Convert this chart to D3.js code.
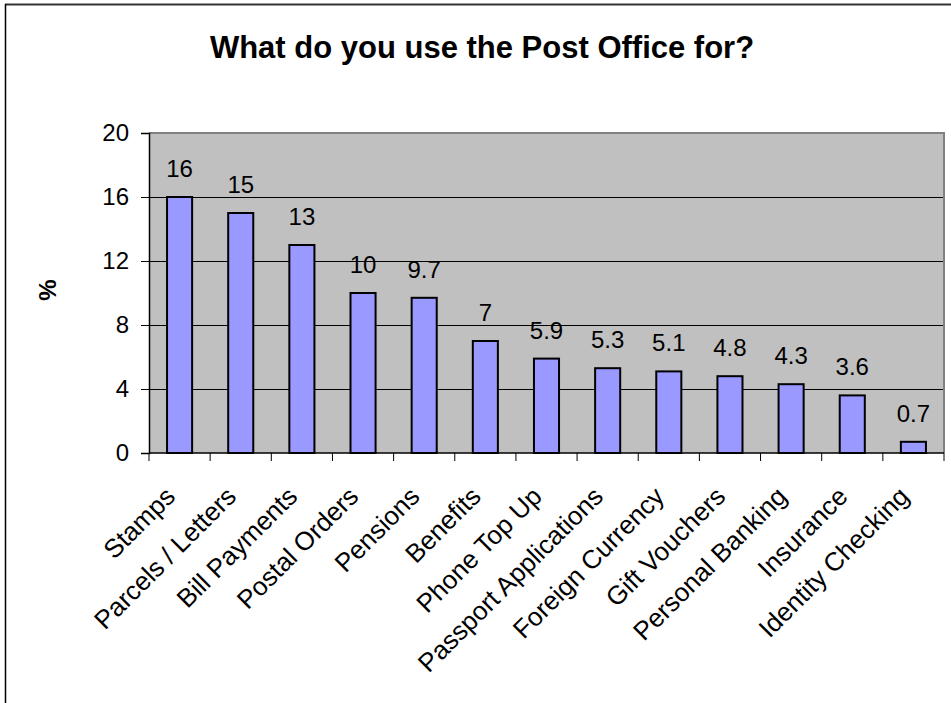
<!DOCTYPE html>
<html>
<head>
<meta charset="utf-8">
<script src="https://cdn.jsdelivr.net/npm/d3@7"></script>
<style>
  html, body { margin: 0; padding: 0; background: #ffffff; }
  svg { display: block; }
  text { font-family: "Liberation Sans", Arial, sans-serif; fill: #000; }
</style>
</head>
<body>
<svg id="chart" width="951" height="703"></svg>
<script>
const categories = ["Stamps", "Parcels / Letters", "Bill Payments", "Postal Orders", "Pensions", "Benefits", "Phone Top Up", "Passport Applications", "Foreign Currency", "Gift Vouchers", "Personal Banking", "Insurance", "Identity Checking"];
const values = [16, 15, 13, 10, 9.7, 7, 5.9, 5.3, 5.1, 4.8, 4.3, 3.6, 0.7];
const valueLabels = ["16", "15", "13", "10", "9.7", "7", "5.9", "5.3", "5.1", "4.8", "4.3", "3.6", "0.7"];
const yTicks = [0, 4, 8, 12, 16, 20];
const title = "What do you use the Post Office for?";
const yTitle = "%";

const svg = d3.select("#chart");
const W = 951, H = 703;
const plot = { left: 149, right: 944, top: 133, bottom: 453 };

// outer chart frame (only top/left visible in picture)
svg.append("line").attr("x1", 5).attr("x2", W).attr("y1", 4.5).attr("y2", 4.5)
  .attr("stroke", "#333").attr("stroke-width", 2);
svg.append("line").attr("x1", 5.5).attr("x2", 5.5).attr("y1", 4).attr("y2", H)
  .attr("stroke", "#000").attr("stroke-width", 1.5);

const x = d3.scaleBand().domain(categories).range([plot.left, plot.right]).paddingInner(0.59).paddingOuter(0.295);
const xb = d3.scaleBand().domain(categories).range([plot.left, plot.right]).padding(0);
const y = d3.scaleLinear().domain([0, 20]).range([plot.bottom, plot.top]);

// plot background
svg.append("rect").attr("x", plot.left).attr("y", plot.top)
  .attr("width", plot.right - plot.left).attr("height", plot.bottom - plot.top)
  .attr("fill", "#c0c0c0");

// gridlines
svg.append("g").selectAll("line").data(yTicks.filter(d => d > 0 && d < 20)).join("line")
  .attr("x1", plot.left).attr("x2", plot.right)
  .attr("y1", d => Math.round(y(d)) + 0.5).attr("y2", d => Math.round(y(d)) + 0.5)
  .attr("stroke", "#000").attr("stroke-width", 1);

// plot border top & right
svg.append("path")
  .attr("d", `M${plot.left},${plot.top}H${plot.right}V${plot.bottom}`)
  .attr("fill", "none").attr("stroke", "#808080").attr("stroke-width", 2);

// bars
svg.append("g").selectAll("rect").data(values).join("rect")
  .attr("x", (d, i) => x(categories[i]))
  .attr("y", d => y(d))
  .attr("width", x.bandwidth())
  .attr("height", d => y(0) - y(d))
  .attr("fill", "#9999ff").attr("stroke", "#000").attr("stroke-width", 2);

// value labels
svg.append("g").selectAll("text").data(values).join("text")
  .attr("x", (d, i) => x(categories[i]) + x.bandwidth() / 2)
  .attr("y", d => y(d) - 20)
  .attr("text-anchor", "middle")
  .attr("font-size", 24)
  .text((d, i) => valueLabels[i]);

// y axis
const yAxis = d3.axisLeft(y).tickValues(yTicks).tickSize(8).tickPadding(12).tickFormat(d3.format("d"));
const gy = svg.append("g").attr("transform", `translate(${plot.left},0)`).call(yAxis);
gy.select(".domain").attr("stroke", "#000").attr("stroke-width", 1.5);
gy.selectAll(".tick line").attr("stroke", "#000");
gy.selectAll(".tick text").attr("font-size", 24).attr("font-family", "Liberation Sans, Arial, sans-serif").attr("fill", "#000");

// x axis: ticks at category boundaries
const boundaries = categories.map(c => xb(c)).concat([plot.right]);
const gx = svg.append("g");
gx.append("line").attr("x1", plot.left).attr("x2", plot.right)
  .attr("y1", plot.bottom).attr("y2", plot.bottom).attr("stroke", "#000").attr("stroke-width", 1.5);
gx.selectAll("line.tk").data(boundaries).join("line").attr("class", "tk")
  .attr("x1", d => d).attr("x2", d => d)
  .attr("y1", plot.bottom).attr("y2", plot.bottom + 8)
  .attr("stroke", "#000").attr("stroke-width", 1);

// x labels rotated -45
svg.append("g").selectAll("text").data(categories).join("text")
  .attr("transform", c => `translate(${xb(c) + xb.bandwidth() / 2 - 3},${498}) rotate(-45)`)
  .attr("text-anchor", "end")
  .attr("font-size", 26)
  .text(c => c);

// title
svg.append("text").attr("x", 482).attr("y", 58).attr("text-anchor", "middle")
  .attr("font-size", 31).attr("font-weight", "bold").text(title);

// y title
svg.append("text").attr("transform", "translate(56,290) rotate(-90)")
  .attr("text-anchor", "middle").attr("font-size", 24).attr("font-weight", "bold").text(yTitle);
</script>
</body>
</html>
